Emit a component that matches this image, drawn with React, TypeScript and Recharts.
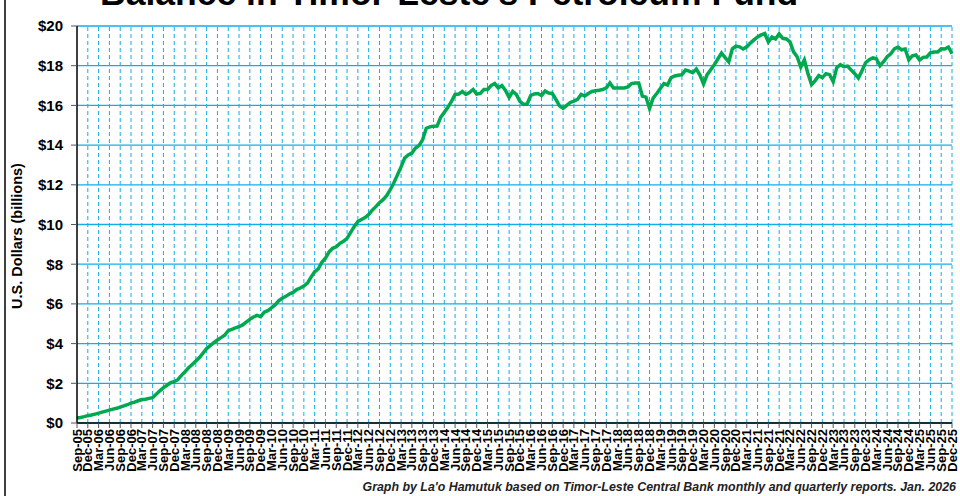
import {
  CartesianGrid,
  Line,
  LineChart,
  ReferenceLine,
  XAxis,
  YAxis,
} from 'recharts';

// Petroleum Fund balance, US$ billions, monthly from Sep-05 to Dec-25
const bal2005 = [0.25, 0.28, 0.32, 0.37];
const bal2006 = [0.4, 0.45, 0.5, 0.55, 0.6, 0.65, 0.7, 0.74, 0.8, 0.86, 0.92, 1.0];
const bal2007 = [1.05, 1.12, 1.18, 1.2, 1.24, 1.28, 1.45, 1.62, 1.78, 1.9, 2.03, 2.08];
const bal2008 = [2.18, 2.4, 2.58, 2.78, 2.95, 3.12, 3.3, 3.52, 3.75, 3.9, 4.05, 4.18];
const bal2009 = [4.3, 4.42, 4.65, 4.72, 4.79, 4.85, 4.94, 5.08, 5.22, 5.34, 5.42, 5.36];
const bal2010 = [5.58, 5.66, 5.8, 5.95, 6.15, 6.28, 6.38, 6.5, 6.58, 6.72, 6.8, 6.9];
const bal2011 = [7.05, 7.35, 7.62, 7.76, 8.1, 8.3, 8.62, 8.8, 8.88, 9.05, 9.15, 9.3];
const bal2012 = [9.6, 9.9, 10.15, 10.25, 10.35, 10.5, 10.72, 10.9, 11.1, 11.25, 11.45, 11.75];
const bal2013 = [12.1, 12.5, 12.9, 13.35, 13.5, 13.6, 13.85, 13.98, 14.28, 14.85, 14.92, 14.95];
const bal2014 = [14.96, 15.4, 15.65, 15.9, 16.2, 16.55, 16.57, 16.7, 16.55, 16.65, 16.8, 16.57];
const bal2015 = [16.6, 16.8, 16.8, 17.0, 17.1, 16.88, 17.0, 16.75, 16.4, 16.7, 16.55, 16.2];
const bal2016 = [16.05, 16.07, 16.5, 16.58, 16.6, 16.5, 16.72, 16.62, 16.6, 16.3, 15.98, 15.85];
const bal2017 = [16.0, 16.15, 16.22, 16.3, 16.55, 16.47, 16.6, 16.7, 16.74, 16.76, 16.8, 16.88];
const bal2018 = [17.13, 16.88, 16.88, 16.88, 16.88, 16.93, 17.1, 17.13, 17.13, 16.47, 16.42, 15.85];
const bal2019 = [16.37, 16.6, 16.85, 17.1, 17.03, 17.4, 17.48, 17.52, 17.55, 17.78, 17.73, 17.65];
const bal2020 = [17.83, 17.53, 17.08, 17.55, 17.8, 18.05, 18.35, 18.64, 18.4, 18.19, 18.85, 18.99];
const bal2021 = [18.95, 18.84, 18.95, 19.14, 19.3, 19.45, 19.55, 19.62, 19.2, 19.45, 19.35, 19.6];
const bal2022 = [19.38, 19.35, 19.2, 18.7, 18.45, 17.93, 18.29, 17.6, 17.05, 17.25, 17.5, 17.4];
const bal2023 = [17.6, 17.55, 17.2, 17.9, 18.05, 17.95, 17.98, 17.78, 17.6, 17.38, 17.75, 18.15];
const bal2024 = [18.3, 18.39, 18.35, 18.0, 18.2, 18.45, 18.6, 18.85, 18.94, 18.8, 18.84, 18.3];
const bal2025 = [18.5, 18.54, 18.29, 18.42, 18.44, 18.65, 18.69, 18.69, 18.85, 18.84, 18.94, 18.6];

const balances = [
  ...bal2005, ...bal2006, ...bal2007, ...bal2008, ...bal2009, ...bal2010, ...bal2011,
  ...bal2012, ...bal2013, ...bal2014, ...bal2015, ...bal2016, ...bal2017, ...bal2018,
  ...bal2019, ...bal2020, ...bal2021, ...bal2022, ...bal2023, ...bal2024, ...bal2025,
];

const monthNames = ['Jan', 'Feb', 'Mar', 'Apr', 'May', 'Jun', 'Jul', 'Aug', 'Sep', 'Oct', 'Nov', 'Dec'];
const firstYear = 2005;
const firstMonth = 8; // Sep

const monthLabels = balances.map((_, i) => {
  const m = firstMonth + i;
  const yr = firstYear + Math.floor(m / 12);
  return `${monthNames[m % 12]}-${String(yr % 100).padStart(2, '0')}`;
});

// quarter labels sit on every third month
const quarterLabels = monthLabels.filter((_, i) => i % 3 === 0);
const yTicks = [0, 2, 4, 6, 8, 10, 12, 14, 16, 18, 20];

const data = monthLabels.map((month, i) => ({ month, balance: balances[i] }));

const gridBlue = '#12aee8';
const font = "'Liberation Sans', Arial, sans-serif";

function QuarterTick({ x, y, payload }: any) {
  return (
    <text
      x={x}
      y={y}
      transform={`rotate(-90 ${x} ${y})`}
      textAnchor="end"
      dominantBaseline="central"
      fontSize={13}
      fontWeight={700}
      fontFamily={font}
      fill="#000"
    >
      {payload.value}
    </text>
  );
}

export default function App() {
  return (
    <div
      style={{
        position: 'absolute',
        left: 0,
        top: 0,
        width: 960,
        height: 496,
        background: '#fff',
        overflow: 'hidden',
        fontFamily: font,
      }}
    >
      <div style={{ position: 'absolute', left: 4, top: 0, width: 2, height: 496, background: '#404040' }} />
      <LineChart
        width={960}
        height={496}
        data={data}
        margin={{ top: 26, right: 8, bottom: 0, left: 0 }}
      >
        <CartesianGrid vertical={false} stroke={gridBlue} strokeWidth={1.3} />
        {quarterLabels.slice(1).map((q) => (
          <ReferenceLine key={q} x={q} stroke={gridBlue} strokeWidth={1} strokeDasharray="4 3" />
        ))}
        <XAxis
          dataKey="month"
          interval={2}
          height={73}
          tick={<QuarterTick />}
          tickSize={5}
          tickMargin={1}
          axisLine={{ stroke: '#000', strokeWidth: 1.5 }}
          tickLine={{ stroke: '#555' }}
        />
        <YAxis
          domain={[0, 20]}
          ticks={yTicks}
          width={77}
          tickSize={6}
          tickMargin={8}
          tickFormatter={(v: number) => `$${v}`}
          tick={{ fontSize: 15, fontWeight: 700, fill: '#000', fontFamily: font }}
          axisLine={{ stroke: '#000', strokeWidth: 1.5 }}
          tickLine={{ stroke: '#555' }}
        />
        <Line
          type="linear"
          dataKey="balance"
          stroke="#00a84f"
          strokeWidth={3.5}
          dot={false}
          isAnimationActive={false}
        />
      </LineChart>
      <svg width={960} height={496} style={{ position: 'absolute', left: 0, top: 0, pointerEvents: 'none' }}>
        <text x={100} y={5} fontSize={35.5} fontWeight={700} fontFamily={font} fill="#000">
          Balance in Timor-Leste's Petroleum Fund
        </text>
        <text
          x={22}
          y={236}
          transform="rotate(-90 22 236)"
          textAnchor="middle"
          fontSize={14.5}
          fontWeight={700}
          fontFamily={font}
          fill="#000"
        >
          U.S. Dollars (billions)
        </text>
        <text
          x={956}
          y={491}
          textAnchor="end"
          fontSize={12.4}
          fontWeight={700}
          fontStyle="italic"
          fontFamily={font}
          fill="#222"
        >
          Graph by La'o Hamutuk based on Timor-Leste Central Bank monthly and quarterly reports. Jan. 2026
        </text>
      </svg>
    </div>
  );
}
